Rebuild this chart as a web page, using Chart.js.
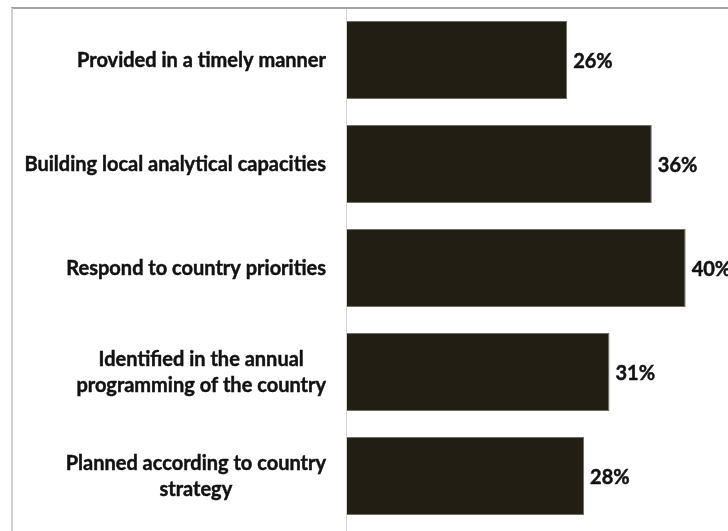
<!DOCTYPE html>
<html>
<head>
<meta charset="utf-8">
<script src="https://cdn.jsdelivr.net/npm/chart.js@4.4.1/dist/chart.umd.min.js"></script>
<style>
  html, body { margin: 0; padding: 0; background: #ffffff; }
  #wrap { position: relative; width: 728px; height: 531px; }
</style>
</head>
<body>
<div id="wrap"><canvas id="chart" width="728" height="531"></canvas></div>
<script>
// Survey answers: share of respondents agreeing with each statement
const categories = [
  ["Provided in a timely manner"],
  ["Building local analytical capacities"],
  ["Respond to country priorities"],
  ["Identified in the annual", "programming of the country"],
  ["Planned according to country", "strategy"]
];
const shares = [26, 36, 40, 31, 28];
const valueLabels = ["26%", "36%", "40%", "31%", "28%"];

const FONT = "Lato, 'Open Sans', sans-serif";
const TEXT = "#121212";

// Bold text with a hairline stroke for a heavier weight
function heavyText(ctx, str, x, y) {
  ctx.fillText(str, x, y);
  ctx.strokeText(str, x, y);
}

// Outer frame lines and the category axis line
const framePlugin = {
  id: "frame",
  beforeDraw(chart) {
    const ctx = chart.ctx;
    const x0 = chart.scales.x.getPixelForValue(0);
    ctx.save();
    ctx.fillStyle = "#a3a3a3";
    ctx.fillRect(11, 7, chart.width - 11, 2);
    ctx.fillStyle = "#cfcfcf";
    ctx.fillRect(11, 8, 2, chart.height - 8);
    ctx.fillStyle = "#d4d4d4";
    ctx.fillRect(Math.round(x0) - 1, 9, 1, chart.height - 9);
    ctx.restore();
  }
};

// Category names: each block right-aligned to the axis, lines centred in the block
const categoryLabelPlugin = {
  id: "categoryLabels",
  afterDraw(chart) {
    const ctx = chart.ctx;
    const yScale = chart.scales.y;
    const right = chart.scales.x.getPixelForValue(0) - 21;
    const lineH = 26;
    ctx.save();
    ctx.font = "bold 20px " + FONT;
    ctx.fillStyle = TEXT;
    ctx.strokeStyle = TEXT;
    ctx.lineWidth = 0.45;
    ctx.textBaseline = "middle";
    ctx.textAlign = "center";
    categories.forEach((lines, i) => {
      const widest = Math.max(...lines.map(l => ctx.measureText(l).width));
      const cx = right - widest / 2;
      const cy = yScale.getPixelForValue(i) + 1;
      lines.forEach((line, k) => {
        heavyText(ctx, line, cx, cy + (k - (lines.length - 1) / 2) * lineH);
      });
    });
    ctx.restore();
  }
};

// Percentage labels just past the end of each bar
const valueLabelPlugin = {
  id: "valueLabels",
  afterDatasetsDraw(chart) {
    const ctx = chart.ctx;
    const meta = chart.getDatasetMeta(0);
    ctx.save();
    ctx.font = "bold 20px " + FONT;
    ctx.fillStyle = TEXT;
    ctx.strokeStyle = TEXT;
    ctx.lineWidth = 0.45;
    ctx.textBaseline = "middle";
    ctx.textAlign = "left";
    meta.data.forEach((bar, i) => {
      heavyText(ctx, valueLabels[i], bar.x + 6, bar.y + 2);
    });
    ctx.restore();
  }
};

new Chart(document.getElementById("chart"), {
  type: "bar",
  data: {
    labels: categories,
    datasets: [{
      data: shares,
      backgroundColor: "#221e14",
      borderColor: "#6e6c66",
      borderWidth: 1,
      borderSkipped: "left",
      categoryPercentage: 0.75,
      barPercentage: 1.0
    }]
  },
  options: {
    indexAxis: "y",
    responsive: false,
    animation: false,
    layout: { padding: { left: 347, top: 8, right: 0, bottom: 3 } },
    plugins: {
      legend: { display: false },
      tooltip: { enabled: false }
    },
    scales: {
      x: {
        display: false,
        min: 0,
        max: 45
      },
      y: {
        display: false,
        grid: { display: false }
      }
    }
  },
  plugins: [framePlugin, categoryLabelPlugin, valueLabelPlugin]
});
</script>
</body>
</html>
